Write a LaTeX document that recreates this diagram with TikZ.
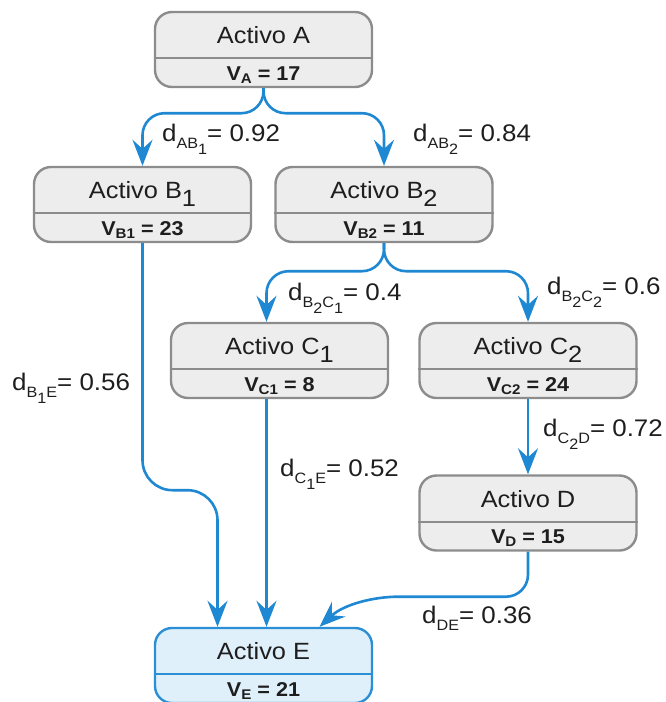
\documentclass[tikz,border=0pt]{standalone}
\usepackage{fontspec}
\setmainfont{Liberation Sans}[FakeStretch=1.08]
\usetikzlibrary{arrows.meta,calc}

\definecolor{flow}{HTML}{1F88D2}
\definecolor{boxline}{HTML}{8C8C8C}
\definecolor{boxfill}{HTML}{EDEDED}
\definecolor{endline}{HTML}{2B8FD6}
\definecolor{endfill}{HTML}{E0F0FB}
\definecolor{ink}{HTML}{1E1E1E}

% subscripts used in titles, values and edge weights
\newcommand\tsub[1]{\raisebox{-8pt}{#1}}
\newcommand\vsub[1]{\raisebox{-3pt}{\fontsize{14}{14}\selectfont\bfseries #1}}
\newcommand\lsub[1]{\raisebox{-7pt}{\fontsize{15}{15}\selectfont #1}}
\newcommand\lsubsub[1]{\raisebox{-6pt}{#1}}

\tikzset{
  asset/.style={draw=boxline, fill=boxfill, line width=2.4pt, rounded corners=17pt,
    minimum width=217pt, minimum height=75pt, inner sep=0pt},
  assetrule/.style={draw=boxline, line width=2.4pt},
  target/.style={asset, draw=endline, fill=endfill},
  targetrule/.style={assetrule, draw=endline},
  title/.style={font=\fontsize{23.5}{23.5}\selectfont, text=ink, inner sep=0pt, anchor=base},
  value/.style={font=\fontsize{20}{20}\selectfont\bfseries, text=ink, inner sep=0pt, anchor=base},
  link/.style={draw=flow, line width=2.6pt, rounded corners=22pt,
    -{Stealth[length=26pt,width=20pt,inset=9pt]}},
  weight/.style={font=\fontsize{24}{24}\selectfont, text=ink, inner sep=0pt, anchor=base west},
}

% box with a title part and a value part: name, style, rule style, x, y, title, value
\newcommand\assetbox[7]{%
  \node[#2] (#1) at (#4,#5) {};
  \draw[#3] ($(#1.south west)+(0,-30)$) -- ($(#1.south east)+(0,-30)$);
  \node[title] (#1-t) at ($(#1.north)+(0,33)$) {#6};
  \node[value] (#1-v) at ($(#1.south)+(0,-8)$) {#7};
}

\begin{document}
\begin{tikzpicture}[x=1pt, y=-1pt]
\useasboundingbox (0,0) rectangle (665,702);

\assetbox{A}{asset}{assetrule}{263.5}{49.5}{Activo A}{V\vsub{A} = 17}
\assetbox{B1}{asset}{assetrule}{142.5}{204.5}{Activo B\tsub{1}}{V\vsub{B1} = 23}
\assetbox{B2}{asset}{assetrule}{384}{204.5}{Activo B\tsub{2}}{V\vsub{B2} = 11}
\assetbox{C1}{asset}{assetrule}{279.5}{360.5}{Activo C\tsub{1}}{V\vsub{C1} = 8}
\assetbox{C2}{asset}{assetrule}{528}{360.5}{Activo C\tsub{2}}{V\vsub{C2} = 24}
\assetbox{D}{asset}{assetrule}{528}{513}{Activo D}{V\vsub{D} = 15}
\assetbox{E}{target}{targetrule}{263.5}{665.5}{Activo E}{V\vsub{E} = 21}

% connectors
\draw[link] (A.south) -- ++(0,25) -| (B1.north);
\draw[link] (A.south) -- ++(0,25) -| (B2.north);
\draw[link] (B2.south) -- ++(0,28) -| ([xshift=-13pt]C1.north);
\draw[link] (B2.south) -- ++(0,28) -| (C2.north);
\draw[link, rounded corners=30pt] (B1.south) -- ++(0,247) -| ([xshift=-46pt]E.north);
\draw[link] ([xshift=-13pt]C1.south) -- ([xshift=3pt]E.north);
\draw[link] (C2.south) -- (D.north);
\draw[link] (D.south) -- ++(0,45) -- ++(-108,0)
  .. controls +(-45,0) and +(25,-23) .. ([xshift=56pt]E.north);

% edge weights
\node[weight] (wAB1) at (162,141) {d\lsub{AB\lsubsub{1}}= 0.92};
\node[weight] (wAB2) at (413,141) {d\lsub{AB\lsubsub{2}}= 0.84};
\node[weight] (wB2C1) at (288,300) {d\lsub{B\lsubsub{2}C\lsubsub{1}}= 0.4};
\node[weight] (wB2C2) at (547,294) {d\lsub{B\lsubsub{2}C\lsubsub{2}}= 0.6};
\node[weight] (wB1E) at (12,390) {d\lsub{B\lsubsub{1}E}= 0.56};
\node[weight] (wC1E) at (280,476) {d\lsub{C\lsubsub{1}E}= 0.52};
\node[weight] (wC2D) at (543,436) {d\lsub{C\lsubsub{2}D}= 0.72};
\node[weight] (wDE) at (422,623) {d\lsub{DE}= 0.36};
\end{tikzpicture}
\end{document}
